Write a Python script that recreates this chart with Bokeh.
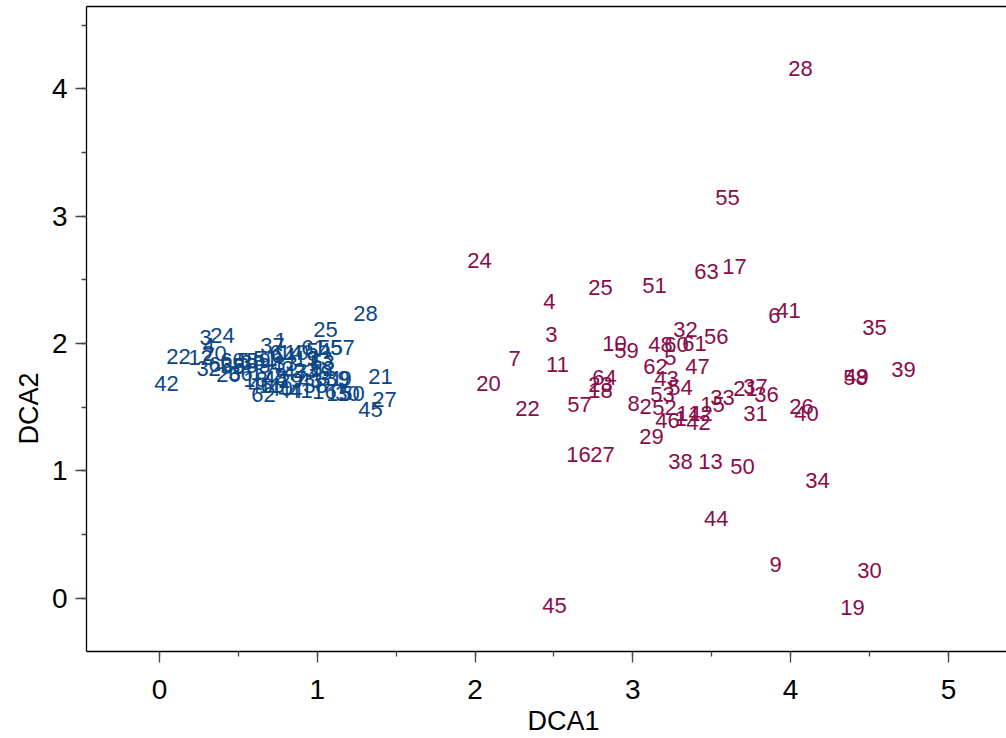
from bokeh.plotting import figure
from bokeh.models import ColumnDataSource, SingleIntervalTicker, LinearAxis, Title
from bokeh.core.properties import value
from bokeh.embed import file_html
from bokeh.resources import INLINE

# Group 1 (blue) site scores
blue_labels = [str(i) for i in range(1, 65)]
blue_x = [0.767, 0.811, 0.292, 0.311, 0.532, 0.735, 0.894, 0.767, 1.179, 0.868,
          0.703, 0.260, 1.020, 0.830, 1.134, 1.046, 0.653, 0.608, 0.932, 0.349,
          1.401, 0.120, 0.925, 0.399, 1.052, 0.437, 1.426, 1.305, 0.830, 1.191,
          1.084, 0.311, 0.798, 0.703, 0.589, 0.513, 0.716, 0.989, 1.128, 0.767,
          0.894, 0.044, 0.957, 0.830, 1.337, 0.640, 0.862, 0.735, 1.020, 1.223,
          0.672, 1.033, 1.033, 1.008, 1.084, 0.545, 1.160, 0.463, 0.627, 0.463,
          0.976, 0.659, 0.387, 0.786]
blue_y = [2.028, 1.807, 2.051, 1.988, 1.870, 1.933, 1.728, 1.751, 1.728, 1.933,
          1.673, 1.893, 1.886, 1.933, 1.609, 1.625, 1.775, 1.720, 1.886, 1.925,
          1.744, 1.901, 1.791, 2.067, 2.114, 1.759, 1.562, 2.233, 1.712, 1.609,
          1.728, 1.807, 1.846, 1.830, 1.854, 1.767, 1.988, 1.673, 1.728, 1.649,
          1.633, 1.688, 1.712, 1.633, 1.483, 1.673, 1.775, 1.728, 1.775, 1.609,
          1.886, 1.807, 1.854, 1.949, 1.972, 1.830, 1.972, 1.822, 1.870, 1.870,
          1.972, 1.602, 1.838, 1.909]

# Group 2 (red) site scores
red_labels = [str(i) for i in range(1, 65)]
red_x = [3.302, 3.080, 2.484, 2.471, 3.238, 3.897, 2.250, 3.004, 3.904, 2.883,
         2.522, 3.428, 3.492, 3.352, 3.504, 2.655, 3.644, 2.795, 4.392, 2.085,
         3.714, 2.332, 2.795, 2.028, 2.795, 4.068, 2.808, 4.062, 3.118, 4.499,
         3.777, 3.333, 3.568, 4.170, 4.531, 3.847, 3.777, 3.302, 4.715, 4.100,
         3.986, 3.416, 3.213, 3.529, 2.503, 3.219, 3.409, 3.175, 4.417, 3.695,
         3.137, 3.200, 3.188, 3.302, 3.599, 3.529, 2.662, 4.411, 2.959, 3.276,
         3.390, 3.143, 3.466, 2.820]
red_y = [1.412, 1.507, 2.075, 2.327, 1.893, 2.217, 1.886, 1.531, 0.268, 2.004,
         1.838, 1.452, 1.073, 1.452, 1.523, 1.128, 2.604, 1.633, -0.071, 1.688,
         1.649, 1.491, 1.680, 2.651, 2.438, 1.507, 1.128, 4.158, 1.270, 0.221,
         1.452, 2.114, 1.578, 0.923, 2.130, 1.602, 1.665, 1.073, 1.799, 1.452,
         2.256, 1.381, 1.728, 0.624, -0.055, 1.396, 1.822, 1.996, 1.744, 1.034,
         2.454, 1.499, 1.602, 1.657, 3.148, 2.059, 1.523, 1.736, 1.949, 1.996,
         2.004, 1.822, 2.564, 1.736]

x_title = "DCA1"
y_title = "DCA2"

BLUE = "#0b4687"
RED = "#8a0c48"
FONT = "Liberation Sans"

p = figure(width=1006, height=737, output_backend="svg", toolbar_location=None,
           x_range=(-0.463, 5.368), y_range=(-0.418, 4.647),
           min_border_left=86, min_border_right=0, min_border_top=0, min_border_bottom=80)
p.grid.visible = False
p.outline_line_color = None
p.background_fill_color = "white"

for ax in (p.xaxis[0], p.yaxis[0]):
    ax.ticker = SingleIntervalTicker(interval=1, num_minor_ticks=2)
    ax.axis_line_color = "black"
    ax.axis_line_width = 1.3
    ax.major_tick_line_color = "#444444"
    ax.minor_tick_line_color = "#444444"
    ax.major_tick_line_width = 1.3
    ax.minor_tick_line_width = 1.3
    ax.major_tick_out = 11
    ax.major_tick_in = 0
    ax.minor_tick_out = 5
    ax.minor_tick_in = 0
    ax.major_label_text_font = FONT
    ax.major_label_text_font_size = "28px"
    ax.major_label_text_color = "black"
p.xaxis.major_label_standoff = 17
p.yaxis.major_label_standoff = 8

top = LinearAxis(axis_line_color="black", axis_line_width=1.3,
                 major_tick_line_color=None, minor_tick_line_color=None,
                 major_label_text_font_size="0px", major_label_text_color=None)
p.add_layout(top, "above")

src_b = ColumnDataSource(dict(x=blue_x, y=blue_y, t=blue_labels))
src_r = ColumnDataSource(dict(x=red_x, y=red_y, t=red_labels))
p.text(x="x", y="y", text="t", source=src_b, text_color=BLUE,
       text_font=value(FONT), text_font_size="22px",
       text_align="center", text_baseline="middle")
p.text(x="x", y="y", text="t", source=src_r, text_color=RED,
       text_font=value(FONT), text_font_size="22px",
       text_align="center", text_baseline="middle")

p.add_layout(Title(text=x_title, align="left", offset=441, text_font=FONT,
                   text_font_size="27px", text_font_style="normal",
                   text_color="black", standoff=4), "below")
p.add_layout(Title(text=y_title, align="left", offset=207, text_font=FONT,
                   text_font_size="27px", text_font_style="normal",
                   text_color="black", standoff=10), "left")

open("out.html", "w").write(file_html(p, INLINE))
